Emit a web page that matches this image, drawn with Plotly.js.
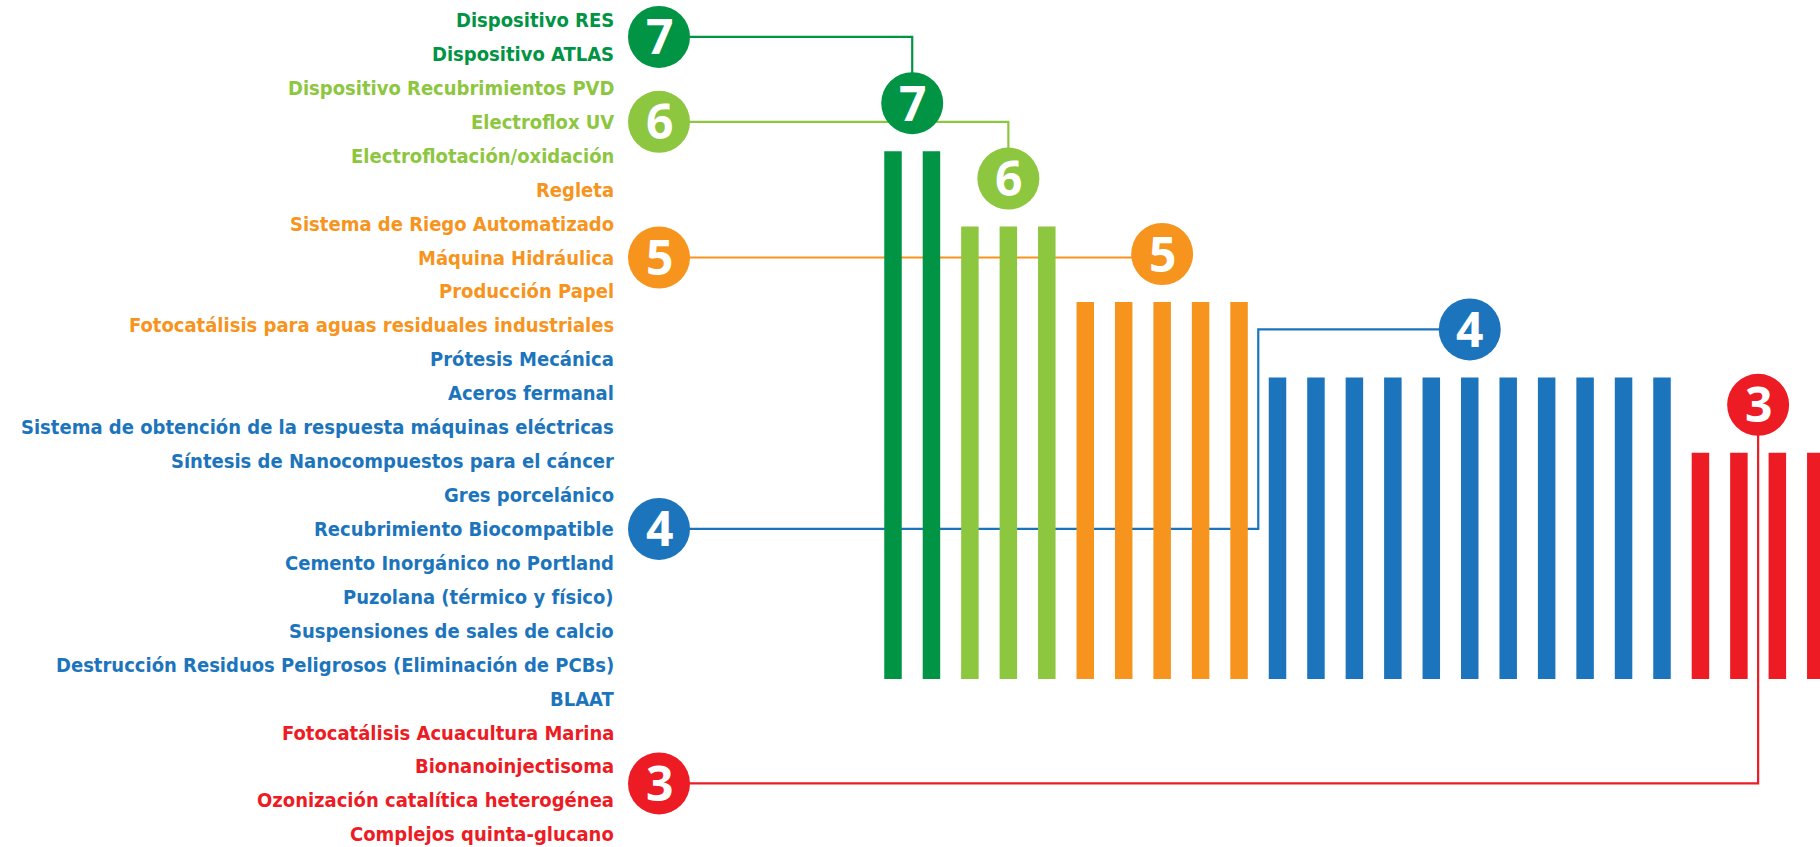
<!DOCTYPE html>
<html>
<head>
<meta charset="utf-8">
<script src="https://cdn.plot.ly/plotly-3.0.1.min.js"></script>
<style>
  html, body { margin: 0; padding: 0; background: #ffffff; }
  #chart { width: 1820px; height: 847px; }
</style>
</head>
<body>
<div id="chart"></div>
<script>
// ---------- DATA ----------
const projects = [
  "Dispositivo RES",
  "Dispositivo ATLAS",
  "Dispositivo Recubrimientos PVD",
  "Electroflox UV",
  "Electroflotación/oxidación",
  "Regleta",
  "Sistema de Riego Automatizado",
  "Máquina Hidráulica",
  "Producción Papel",
  "Fotocatálisis para aguas residuales industriales",
  "Prótesis Mecánica",
  "Aceros fermanal",
  "Sistema de obtención de la respuesta máquinas eléctricas",
  "Síntesis de Nanocompuestos para el cáncer",
  "Gres porcelánico",
  "Recubrimiento Biocompatible",
  "Cemento Inorgánico no Portland",
  "Puzolana (térmico y físico)",
  "Suspensiones de sales de calcio",
  "Destrucción Residuos Peligrosos (Eliminación de PCBs)",
  "BLAAT",
  "Fotocatálisis Acuacultura Marina",
  "Bionanoinjectisoma",
  "Ozonización catalítica heterogénea",
  "Complejos quinta-glucano"
];
const scores = [7, 7, 6, 6, 6, 5, 5, 5, 5, 5, 4, 4, 4, 4, 4, 4, 4, 4, 4, 4, 4, 3, 3, 3, 3];
const levels = [7, 6, 5, 4, 3];

// ---------- STYLE / LAYOUT CONSTANTS ----------
const levelColors = {7: "#009444", 6: "#8DC63F", 5: "#F7941D", 4: "#1C75BC", 3: "#ED1C24"};
const connectorRoute = {7: "direct", 6: "direct", 5: "direct", 4: "gap", 3: "direct"};
const W = 1820, H = 847;
const BAR_X0_PX = 893, BAR_PITCH_PX = 38.45, BASE_PX = 679, UNIT_PX = 75.4;
const ROW0_PX = 20, ROW_PITCH_PX = 33.93;
const LABEL_RIGHT_PX = 616, LEFT_BADGE_PX = 659;
const BADGE_R = 31, BADGE_LIFT_PX = 48;
const LABEL_FONT = "'DejaVu Sans Condensed', 'Liberation Sans Narrow', 'Roboto', sans-serif";
const NUM_FONT = "'Open Sans', 'Liberation Sans', sans-serif";

const toX = px => (px - BAR_X0_PX) / BAR_PITCH_PX;
const toY = py => (BASE_PX - py) / UNIT_PX;
const rowY = r => toY(ROW0_PX + ROW_PITCH_PX * r);

// ---------- BARS ----------
const idx = projects.map((_, i) => i);
const bars = {
  type: "bar",
  x: idx,
  y: scores,
  width: 0.455,
  marker: {color: scores.map(s => levelColors[s]), line: {width: 0}},
  hoverinfo: "skip",
  showlegend: false
};

// ---------- LABELS, BADGES, CONNECTORS ----------
const annotations = [];
const shapes = [];
const circles = [];

projects.forEach((name, i) => {
  annotations.push({
    x: toX(LABEL_RIGHT_PX), y: rowY(i), xref: "x", yref: "y",
    xanchor: "right", yanchor: "middle", showarrow: false,
    text: name,
    font: {family: LABEL_FONT, size: 20, color: levelColors[scores[i]], weight: 700}
  });
});

levels.forEach(lv => {
  const members = idx.filter(i => scores[i] === lv);
  const mean = members.reduce((a, b) => a + b, 0) / members.length;
  const color = levelColors[lv];
  const lx = toX(LEFT_BADGE_PX), ly = rowY(mean);
  const rx = mean, ry = lv + BADGE_LIFT_PX / UNIT_PX;

  let path;
  if (connectorRoute[lv] === "gap") {
    const gx = members[0] - 0.5;
    path = `M ${lx},${ly} L ${gx},${ly} L ${gx},${ry} L ${rx},${ry}`;
  } else {
    path = `M ${lx},${ly} L ${rx},${ly} L ${rx},${ry}`;
  }
  shapes.push({type: "path", path: path, xref: "x", yref: "y", layer: "below",
               line: {color: color, width: 2.2}});

  [[lx, ly], [rx, ry]].forEach(([cx, cy]) => {
    circles.push({type: "circle", xref: "x", yref: "y", layer: "below",
      xsizemode: "pixel", ysizemode: "pixel", xanchor: cx, yanchor: cy,
      x0: -BADGE_R, x1: BADGE_R, y0: -BADGE_R, y1: BADGE_R,
      fillcolor: color, line: {width: 0}});
    annotations.push({x: cx, y: cy, xref: "x", yref: "y", xanchor: "center", yanchor: "middle",
      showarrow: false, text: String(lv), yshift: 1,
      font: {family: NUM_FONT, size: 48, color: "#ffffff", weight: 700}});
  });
});

const layout = {
  width: W, height: H,
  margin: {l: 0, r: 0, t: 0, b: 0, pad: 0},
  paper_bgcolor: "#ffffff", plot_bgcolor: "#ffffff",
  showlegend: false,
  xaxis: {range: [toX(0), toX(W)], visible: false, fixedrange: true},
  yaxis: {range: [toY(H), toY(0)], visible: false, fixedrange: true},
  shapes: shapes.concat(circles),
  annotations: annotations
};

Plotly.newPlot("chart", [bars], layout, {displayModeBar: false, staticPlot: true});
</script>
</body>
</html>
